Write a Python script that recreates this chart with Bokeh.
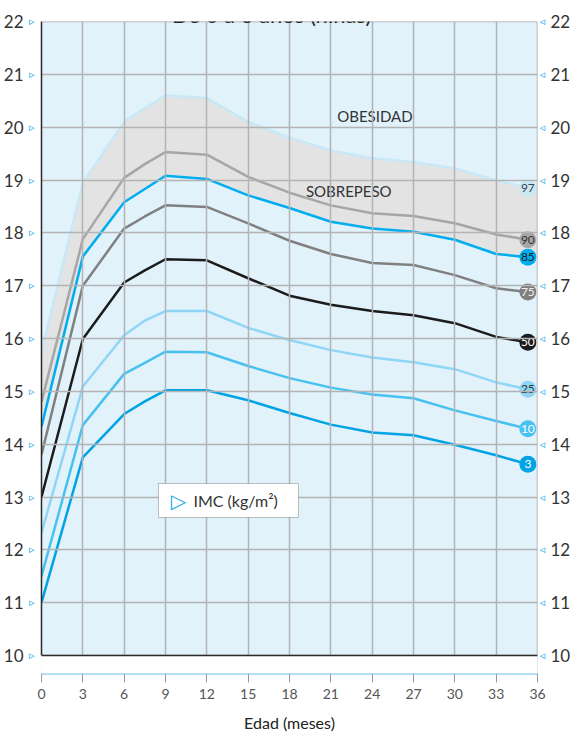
from bokeh.plotting import figure
from bokeh.models import (LinearAxis, FixedTicker, Range1d, Label, BoxAnnotation,
                          ColumnDataSource, Span)
from bokeh.embed import file_html
from bokeh.resources import INLINE
from bokeh.core.properties import value

# ---------------- data ----------------
ages = [0, 3, 6, 7.5, 9, 12, 15, 18, 21, 24, 27, 30, 33, 35.3]
p97 = [15.75, 18.95, 20.10, 20.36, 20.60, 20.55, 20.10, 19.80, 19.56, 19.41, 19.34, 19.22, 18.99, 18.85]
p90 = [14.80, 17.88, 19.04, 19.30, 19.53, 19.48, 19.06, 18.76, 18.52, 18.37, 18.32, 18.18, 17.97, 17.87]
p85 = [14.33, 17.55, 18.58, 18.83, 19.08, 19.02, 18.71, 18.47, 18.21, 18.08, 18.02, 17.87, 17.60, 17.54]
p75 = [13.80, 17.00, 18.08, 18.31, 18.52, 18.49, 18.18, 17.85, 17.60, 17.43, 17.39, 17.20, 16.95, 16.88]
p50 = [13.00, 15.99, 17.06, 17.29, 17.50, 17.48, 17.14, 16.81, 16.64, 16.52, 16.44, 16.29, 16.03, 15.93]
p25 = [12.32, 15.09, 16.06, 16.34, 16.52, 16.52, 16.20, 15.97, 15.78, 15.64, 15.55, 15.42, 15.17, 15.04]
p10 = [11.50, 14.36, 15.33, 15.54, 15.75, 15.74, 15.48, 15.25, 15.07, 14.94, 14.87, 14.64, 14.44, 14.29]
p3 = [11.00, 13.75, 14.57, 14.81, 15.02, 15.02, 14.83, 14.59, 14.37, 14.22, 14.17, 13.99, 13.79, 13.62]

percentile_names = ["97", "90", "85", "75", "50", "25", "10", "3"]
series = [p97, p90, p85, p75, p50, p25, p10, p3]
line_colors = ["#c8e8f8", "#a6a6a6", "#00aeef", "#808080", "#1c1c1c", "#8fd6f6", "#47c2f0", "#00a3e3"]
badge_text_colors = ["#444444", "#333333", "#1e1e1e", "#f2f2f2", "#ffffff", "#333333", "#ffffff", "#ffffff"]

x_ticks = list(range(0, 37, 3))
y_ticks = list(range(10, 23))
zone_labels = ["OBESIDAD", "SOBREPESO"]
title_text = "De 0 a 3 años (niñas)"
legend_text = "IMC (kg/m²)"
x_label = "Edad (meses)"

FONT = "Lato"
TRI_BLUE = "#19a8e6"
GRID = "#b3b3b3"
DARK = "#2b2b2b"

X0, X1, Y0, Y1 = 0, 36, 10, 22
PX_PER_UNIT = 634 / (Y1 - Y0)
GAP_PX = 18                       # gap between the chart and the age axis
y_low = Y0 - GAP_PX / PX_PER_UNIT

# ---------------- figure ----------------
p = figure(frame_width=496, frame_height=634 + GAP_PX,
           x_range=Range1d(X0, X1), y_range=Range1d(y_low, Y1),
           output_backend="svg", toolbar_location=None,
           min_border_left=0, min_border_right=0, min_border_top=21, min_border_bottom=0,
           background_fill_color="#e1f2fb", border_fill_color="white",
           outline_line_color=None)

p.xgrid.ticker = FixedTicker(ticks=x_ticks)
p.ygrid.ticker = FixedTicker(ticks=y_ticks)
for g in (p.xgrid[0], p.ygrid[0]):
    g.grid_line_color = GRID
    g.grid_line_width = 1.5
    g.level = "glyph"

# left: triangle axis (closest to frame) + number axis
yl = p.yaxis[0]
yl.ticker = FixedTicker(ticks=y_ticks)
yl.bounds = (Y0, Y1)
yl.major_label_overrides = {t: "▹" for t in y_ticks}
yl.major_label_text_color = TRI_BLUE
yl.major_label_text_font = "DejaVu Sans"
yl.major_label_text_font_size = "11px"
yl.major_label_standoff = 7
yl.major_tick_line_color = None
yl.minor_tick_line_color = None
yl.major_tick_out = 0
yl.major_tick_in = 0
yl.axis_line_color = DARK
yl.axis_line_width = 1.5

yl2 = LinearAxis(ticker=FixedTicker(ticks=y_ticks), bounds=(Y0, Y1),
                 major_label_text_font=FONT, major_label_text_font_size="17px",
                 major_label_text_color="#333333", major_label_standoff=2,
                 axis_line_color=None, major_tick_line_color=None, minor_tick_line_color=None,
                 major_tick_out=0, major_tick_in=0)
p.add_layout(yl2, "left")

# right: triangle axis + number axis
yr = LinearAxis(ticker=FixedTicker(ticks=y_ticks), bounds=(Y0, Y1),
                major_label_overrides={t: "◃" for t in y_ticks},
                major_label_text_color=TRI_BLUE, major_label_text_font="DejaVu Sans",
                major_label_text_font_size="11px", major_label_standoff=2,
                axis_line_color=None, major_tick_line_color=None, minor_tick_line_color=None,
                major_tick_out=0, major_tick_in=0)
p.add_layout(yr, "right")
yr2 = LinearAxis(ticker=FixedTicker(ticks=y_ticks), bounds=(Y0, Y1),
                 major_label_text_font=FONT, major_label_text_font_size="17px",
                 major_label_text_color="#333333", major_label_standoff=2,
                 axis_line_color=None, major_tick_line_color=None, minor_tick_line_color=None,
                 major_tick_out=0, major_tick_in=0)
p.add_layout(yr2, "right")

# bottom: age axis
xa = p.xaxis[0]
xa.ticker = FixedTicker(ticks=x_ticks)
xa.axis_label = x_label
xa.axis_line_color = "#a6dcf5"
xa.axis_line_width = 3
xa.major_tick_line_color = "#9a9a9a"
xa.major_tick_line_width = 1
xa.major_tick_out = 9
xa.major_tick_in = 0
xa.minor_tick_line_color = None
xa.major_label_text_font = FONT
xa.major_label_text_font_size = "14px"
xa.major_label_text_color = "#555555"
xa.major_label_standoff = 6
xa.axis_label_text_font = FONT
xa.axis_label_text_font_size = "16px"
xa.axis_label_text_color = "#222222"
xa.axis_label_text_font_style = "normal"
xa.axis_label_standoff = 11

# ---------------- marks ----------------
# the shaded band between P85 and P97 runs on to the right edge of the chart
band_x = ages + [X1]
band_lo = p85 + [p85[-1]]
band_hi = p97 + [p97[-1]]
p.varea(x=band_x, y1=band_lo, y2=band_hi, fill_color="#e3e3e3", level="underlay")

for ys, col in zip(series, line_colors):
    p.line(ages, ys, line_color=col, line_width=2.5, line_join="round")

end_src = ColumnDataSource(dict(
    x=[ages[-1]] * len(series),
    y=[s[-1] for s in series],
    fill=line_colors,
    lab=percentile_names,
    tcol=badge_text_colors,
))
p.scatter("x", "y", size=17, fill_color="fill", line_color=None, source=end_src)
p.text("x", "y", text="lab", text_color="tcol", text_align="center", text_baseline="middle",
       text_font=value(FONT), text_font_size="12px", source=end_src)

p.text(x=[24.2, 22.3], y=[20.22, 18.80], text=zone_labels, text_align="center",
       text_baseline="middle", text_font=value(FONT), text_font_size="15px",
       text_color="#333333")

# chart border: gray top/right edges, white gap under the chart, dark bottom edge
p.add_layout(Span(location=Y1, dimension="width", line_color="#a9a9a9", line_width=1.5))
p.add_layout(Span(location=X1, dimension="height", line_color="#a9a9a9", line_width=1.5))
p.add_layout(BoxAnnotation(top=Y0, left=X0 - 0.1, right=X1 + 0.1,
                           fill_color="white", fill_alpha=1.0, line_color=None))
p.add_layout(Span(location=Y0, dimension="width", line_color=DARK, line_width=1.5))

# legend box
p.add_layout(BoxAnnotation(left=8.49, right=18.65, top=13.256, bottom=12.612,
                           fill_color="white", fill_alpha=1.0,
                           line_color="#333333", line_width=1))
p.add_layout(Label(x=9.94, y=12.93, text="▷", text_align="center", text_baseline="middle",
                   text_font="DejaVu Sans", text_font_size="20px", text_color=TRI_BLUE))
p.add_layout(Label(x=11.03, y=12.93, text=legend_text, text_align="left", text_baseline="middle",
                   text_font=FONT, text_font_size="16px", text_color="#333333"))

# title (partly cut off at the top, as in the reference)
p.add_layout(Label(x=16.7, y=Y1, y_offset=7.5, text=title_text, text_align="center",
                   text_baseline="alphabetic", text_font=FONT, text_font_size="22px",
                   text_color="#222222"))

open("out.html", "w").write(file_html(p, INLINE))
